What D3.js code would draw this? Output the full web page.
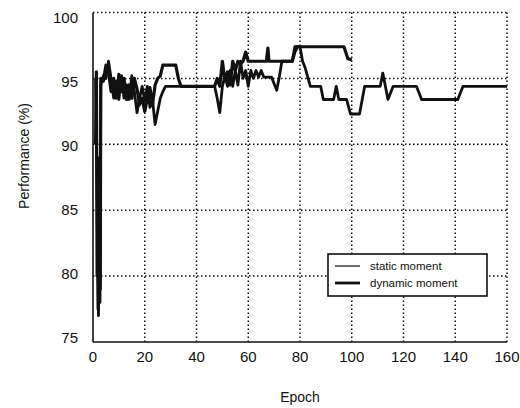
<!DOCTYPE html>
<html>
<head>
<meta charset="utf-8">
<script src="https://d3js.org/d3.v7.min.js"></script>
<style>
  body { margin: 0; background: #fff; }
  text { font-family: "Liberation Sans", Arial, sans-serif; fill: #111; }
  .grid line { stroke: #111; stroke-width: 1.5; stroke-dasharray: 1.5,2.5; }
</style>
</head>
<body>
<div id="chart"></div>
<script>
var width = 520, height = 408;
var plotLeft = 93, plotRight = 507, plotTop = 12.5, plotBottom = 342;

var xTicks = [0, 20, 40, 60, 80, 100, 120, 140, 160];
var yTicks = [75, 80, 85, 90, 95, 100];
var seriesNames = ["static moment", "dynamic moment"];

// [epoch, performance %]
var staticMoment = [
  [1, 95.0], [1.5, 88.0], [1.8, 81.0], [2.1, 77.0], [2.4, 80.5], [2.7, 78.0], [3, 94.5], [4, 95.2],
  [5, 95.0], [6, 96.3], [7, 95.0], [8, 93.5],
  [9, 94.8], [10, 93.4], [11, 95.2], [12, 93.5], [13, 94.5], [14, 93.4], [15, 95.2], [16, 94.0],
  [17, 92.4], [18, 93.5], [19, 94.4], [20, 93.3], [21, 94.4], [22, 92.8], [23, 93.4], [24, 91.5],
  [25, 92.5], [26, 93.5], [27, 94.0], [28, 94.4], [47, 94.4], [48, 93.5], [49, 92.4], [50, 94.4],
  [51, 95.2], [52, 94.4], [53, 95.6], [54, 94.4], [55, 95.6], [56, 94.5], [57, 96.3], [58, 95.0],
  [59, 95.6], [60, 94.4], [61, 95.6], [62, 95.0], [63, 95.6], [64, 95.1], [65, 95.6], [66, 95.1],
  [69, 95.1], [70, 94.6], [71, 94.1], [72, 95.1], [73, 96.3], [77, 96.3], [78, 97.4], [80, 97.4],
  [81, 96.3], [82, 95.8], [83, 95.1], [84, 94.4], [88, 94.4], [89, 93.4], [93, 93.4], [94, 94.4],
  [95, 93.4], [98, 93.4], [99.5, 92.3], [103, 92.3], [105, 94.4], [111, 94.4], [112, 95.4], [113, 94.4],
  [114, 93.4], [116, 94.4], [125, 94.4], [127, 93.4], [141, 93.4], [143, 94.4], [160, 94.4]
];
var dynamicMoment = [
  [1, 90.0], [1.3, 95.5], [1.6, 80.0], [1.8, 89.0], [2, 77.5], [2.2, 88.0], [2.4, 78.5], [2.6, 87.0],
  [2.8, 79.0], [3, 95.0], [4, 94.8], [5, 96.0], [6, 95.5],
  [7, 94.0], [8, 95.0], [9, 93.5], [10, 95.3], [11, 94.0], [12, 95.0], [13, 93.4], [14, 94.5],
  [15, 93.5], [16, 95.0], [17, 94.2], [18, 93.0], [19, 93.5], [20, 92.5], [21, 93.5], [22, 94.3],
  [23, 93.0], [24, 94.5], [25, 95.0], [26, 95.2], [27, 96.0], [32, 96.0], [33, 95.0], [34, 94.4],
  [47, 94.4], [48, 95.0], [49, 94.4], [50, 96.3], [51, 94.8], [52, 95.5], [53, 94.5], [54, 96.3],
  [55, 95.6], [56, 96.3], [57, 96.1], [58, 96.3], [59, 97.0], [60, 96.3], [67, 96.3], [67.6, 97.3],
  [68, 96.3], [77, 96.3], [78, 97.0], [79, 97.4], [97, 97.4], [98.5, 96.5], [100, 96.4]
];

var x = d3.scaleLinear().domain([0, 160]).range([plotLeft, plotRight]);
var y = d3.scaleLinear().domain([75, 100]).range([plotBottom, plotTop]);
// tick labels sit slightly inside the tick span in the scanned figure
var yLabel = d3.scaleLinear().domain([75, 100]).range([plotBottom - 4, plotTop + 5]);

var svg = d3.select("#chart").append("svg")
    .attr("width", width)
    .attr("height", height);

var grid = svg.append("g").attr("class", "grid");
grid.selectAll(".gx").data(xTicks.slice(1))
  .enter().append("line")
    .attr("x1", d => x(d)).attr("x2", d => x(d))
    .attr("y1", plotTop).attr("y2", plotBottom);
grid.selectAll(".gy").data(yTicks.slice(1))
  .enter().append("line")
    .attr("x1", plotLeft).attr("x2", plotRight)
    .attr("y1", d => y(d)).attr("y2", d => y(d));

// solid left and bottom axes
svg.append("line").attr("x1", plotLeft).attr("x2", plotLeft).attr("y1", plotTop).attr("y2", plotBottom)
  .attr("stroke", "#111").attr("stroke-width", 1.6);
svg.append("line").attr("x1", plotLeft).attr("x2", plotRight).attr("y1", plotBottom).attr("y2", plotBottom)
  .attr("stroke", "#111").attr("stroke-width", 1.6);

svg.selectAll(".xl").data(xTicks)
  .enter().append("text")
    .attr("x", d => x(d))
    .attr("y", 362)
    .attr("text-anchor", "middle")
    .attr("font-size", 15)
    .text(d => d);

svg.selectAll(".yl").data(yTicks)
  .enter().append("text")
    .attr("x", 78)
    .attr("y", d => yLabel(d))
    .attr("dy", "0.35em")
    .attr("text-anchor", "end")
    .attr("font-size", 15)
    .text(d => d);

svg.append("text")
    .attr("x", 300).attr("y", 402)
    .attr("text-anchor", "middle")
    .attr("font-size", 14)
    .text("Epoch");

svg.append("text")
    .attr("transform", "translate(29,156) rotate(-90)")
    .attr("text-anchor", "middle")
    .attr("font-size", 14)
    .text("Performance (%)");

var line = d3.line().x(d => x(d[0])).y(d => y(d[1]));

svg.append("path").datum(staticMoment)
    .attr("d", line)
    .attr("fill", "none").attr("stroke", "#111")
    .attr("stroke-width", 2.8).attr("stroke-linejoin", "round");

svg.append("path").datum(dynamicMoment)
    .attr("d", line)
    .attr("fill", "none").attr("stroke", "#111")
    .attr("stroke-width", 3.2).attr("stroke-linejoin", "round");

// legend
var lg = svg.append("g").attr("transform", "translate(328,254)");
lg.append("rect")
    .attr("width", 159).attr("height", 42)
    .attr("fill", "#fff").attr("stroke", "#111").attr("stroke-width", 1.6);
lg.selectAll(".ll").data(seriesNames)
  .enter().append("line")
    .attr("x1", 7).attr("x2", 32)
    .attr("y1", (d, i) => 12 + i * 17).attr("y2", (d, i) => 12 + i * 17)
    .attr("stroke", "#111")
    .attr("stroke-width", (d, i) => i ? 2.8 : 1.2);
lg.selectAll(".lt").data(seriesNames)
  .enter().append("text")
    .attr("x", 42)
    .attr("y", (d, i) => 12 + i * 17)
    .attr("dy", "0.35em")
    .attr("font-size", 11.5)
    .text(d => d);
</script>
</body>
</html>
